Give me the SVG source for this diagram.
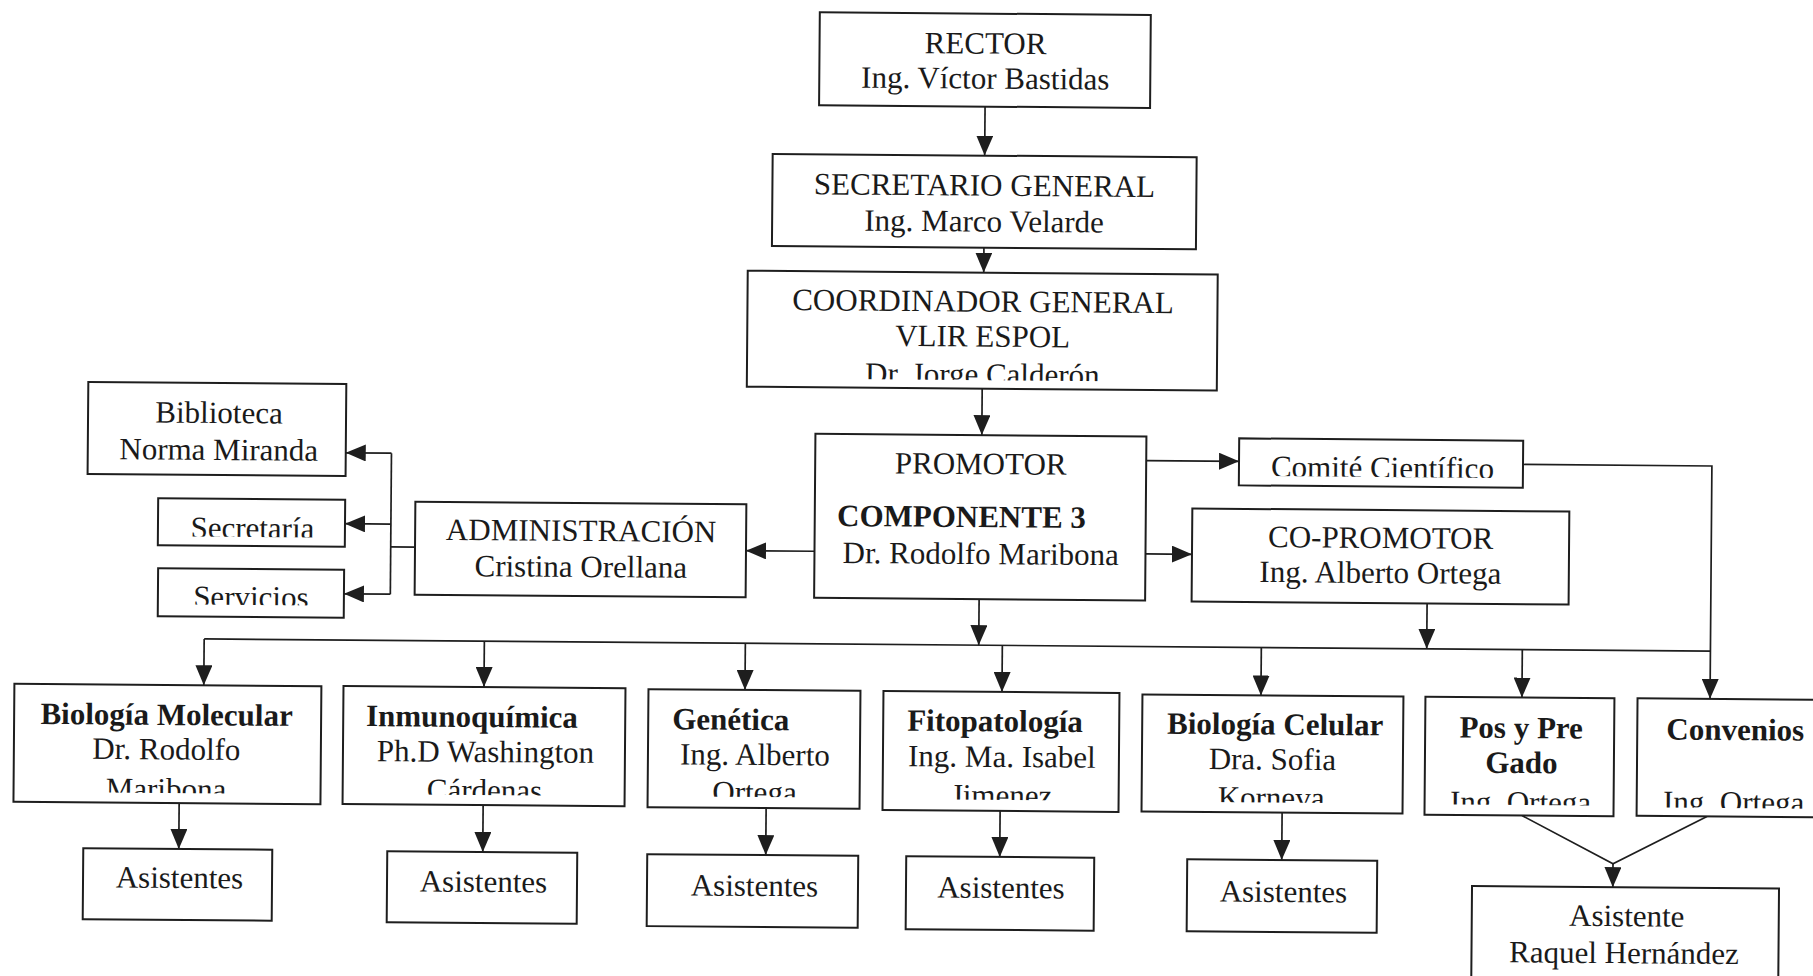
<svg xmlns="http://www.w3.org/2000/svg" width="1813" height="976" viewBox="0 0 1813 976">
<style>
.box{fill:#fff;stroke:#1e1e1e;stroke-width:2}
.t{font-family:"Liberation Serif","Times New Roman",serif;font-size:31px;fill:#1a1a1a;text-anchor:middle}
.b{font-weight:bold}
.s{text-anchor:start}
.ln{fill:none;stroke:#1e1e1e;stroke-width:1.7}
.ar{marker-end:url(#ah)}
</style>
<defs>
<marker id="ah" markerUnits="userSpaceOnUse" markerWidth="21" markerHeight="17" refX="20" refY="8.5" orient="auto">
<path d="M0,0 L20,8.5 L0,17 Z" fill="#1e1e1e"/>
</marker>
<clipPath id="c-coord"><rect x="746" y="272" width="470" height="107.5"/></clipPath>
<clipPath id="c-secr"><rect x="158.3" y="504.2" width="187" height="38"/></clipPath>
<clipPath id="c-serv"><rect x="158.8" y="574.2" width="186" height="36"/></clipPath>
<clipPath id="c-comite"><rect x="1238.8" y="435.7" width="284" height="37.5"/></clipPath>
<clipPath id="c-biomol"><rect x="16" y="690.9" width="307" height="108"/></clipPath>
<clipPath id="c-inmuno"><rect x="345.1" y="690.4" width="282" height="108"/></clipPath>
<clipPath id="c-genetica"><rect x="650.1" y="691.2" width="212" height="107"/></clipPath>
<clipPath id="c-fito"><rect x="885.1" y="691.2" width="236" height="108"/></clipPath>
<clipPath id="c-biocel"><rect x="1144.1" y="692.6" width="261" height="107"/></clipPath>
<clipPath id="c-pos"><rect x="1427.1" y="692.6" width="189" height="107.5"/></clipPath>
<clipPath id="c-conv"><rect x="1639.2" y="692.4" width="203" height="109"/></clipPath>
</defs>
<rect x="0" y="0" width="1813" height="976" fill="#fff"/>
<g transform="rotate(0.46 906 488)">
<g id="connectors">
<path class="ln ar" d="M982,106 V155"/>
<path class="ln ar" d="M982,247 V272"/>
<path class="ln ar" d="M981.4,388 V434.5"/>
<path class="ln ar" d="M815,552 H746.5"/>
<path class="ln" d="M415.5,551 H391.2"/>
<path class="ln" d="M391.2,457.3 V598.3"/>
<path class="ln ar" d="M391.2,457.3 H345.5"/>
<path class="ln ar" d="M391.2,528.2 H345.3"/>
<path class="ln ar" d="M391.2,598.3 H344.8"/>
<path class="ln ar" d="M1146,458.7 H1238.8"/>
<path class="ln ar" d="M1146,552 H1192.5"/>
<path class="ln ar" d="M1522.8,459.5 H1711.7 V692.4"/>
<path class="ln ar" d="M980,598.5 V644.6"/>
<path class="ln ar" d="M1428,599.2 V644.6"/>
<path class="ln" d="M205.4,644.6 H1711.7"/>
<path class="ln ar" d="M205.4,644.6 V690.9"/>
<path class="ln ar" d="M485.6,644.6 V690.4"/>
<path class="ln ar" d="M746.6,644.6 V691.2"/>
<path class="ln ar" d="M1003.6,644.6 V691.2"/>
<path class="ln ar" d="M1262.6,644.6 V692.6"/>
<path class="ln ar" d="M1523.6,644.6 V692.6"/>
<path class="ln ar" d="M181.7,808.9 V854.8"/>
<path class="ln ar" d="M485.7,808.4 V855.4"/>
<path class="ln ar" d="M768.7,809.2 V856.2"/>
<path class="ln ar" d="M1002.7,810.2 V856.2"/>
<path class="ln ar" d="M1284.7,809.6 V857"/>
<path class="ln" d="M1524.6,810.6 L1616,858 L1709.6,810"/>
<path class="ln ar" d="M1616,858 V881.5"/>
</g>
<g id="rector"><rect class="box" x="816" y="13" width="331" height="93"/>
<text class="t" x="982" y="53">RECTOR</text><text class="t" x="982" y="88">Ing. Víctor Bastidas</text></g>
<g id="secretario"><rect class="box" x="770" y="155" width="424" height="92"/>
<text class="t" x="982" y="195">SECRETARIO GENERAL</text><text class="t" x="982" y="231">Ing. Marco Velarde</text></g>
<g id="coordinador"><rect class="box" x="746" y="272" width="470" height="116"/>
<text class="t" x="981.5" y="311">COORDINADOR GENERAL</text><text class="t" x="981.5" y="346">VLIR ESPOL</text>
<text class="t" x="981.5" y="384" clip-path="url(#c-coord)">Dr. Jorge Calderón</text></g>
<g id="promotor"><rect class="box" x="815" y="434.5" width="331" height="164"/>
<text class="t" x="980.5" y="473.5">PROMOTOR</text><text class="t b s" x="837.3" y="526.5">COMPONENTE 3</text>
<text class="t" x="981.3" y="563.5">Dr. Rodolfo Maribona</text></g>
<g id="administracion"><rect class="box" x="415.5" y="505.6" width="331" height="93"/>
<text class="t" x="581.5" y="543.6">ADMINISTRACIÓN</text><text class="t" x="581.5" y="579.6">Cristina Orellana</text></g>
<g id="biblioteca"><rect class="box" x="87.5" y="388.5" width="258" height="92"/>
<text class="t" x="218.5" y="428.5">Biblioteca</text><text class="t" x="218.5" y="465.5">Norma Miranda</text></g>
<g id="secretaria"><rect class="box" x="158.3" y="504.2" width="187" height="47"/>
<text class="t" x="252.8" y="543.7" clip-path="url(#c-secr)">Secretaría</text></g>
<g id="servicios"><rect class="box" x="158.8" y="574.2" width="186" height="48"/>
<text class="t" x="251.8" y="612.7" clip-path="url(#c-serv)">Servicios</text></g>
<g id="comite"><rect class="box" x="1238.8" y="435.7" width="284" height="47"/>
<text class="t" x="1382.3" y="474.2" clip-path="url(#c-comite)">Comité Científico</text></g>
<g id="copromotor"><rect class="box" x="1192.5" y="506.2" width="377" height="93"/>
<text class="t" x="1381" y="544.2">CO-PROMOTOR</text><text class="t" x="1381" y="579.2">Ing. Alberto Ortega</text></g>
<g id="biomolecular"><rect class="box" x="16" y="690.9" width="307" height="118"/>
<text class="t b" x="168.5" y="730.9">Biología Molecular</text><text class="t" x="168.5" y="765.4">Dr. Rodolfo</text>
<text class="t" x="168.5" y="805.4" clip-path="url(#c-biomol)">Maribona</text></g>
<g id="asistentes1"><rect class="box" x="86.2" y="854.8" width="189" height="71"/>
<text class="t" x="182.7" y="893.8">Asistentes</text></g>
<g id="inmunoquimica"><rect class="box" x="345.1" y="690.4" width="282" height="118"/>
<text class="t b s" x="367.9" y="730.4">Inmunoquímica</text><text class="t" x="487.6" y="765.4">Ph.D Washington</text>
<text class="t" x="487" y="803.9" clip-path="url(#c-inmuno)">Cárdenas</text></g>
<g id="asistentes2"><rect class="box" x="390.2" y="855.4" width="190" height="71"/>
<text class="t" x="486.7" y="895.4">Asistentes</text></g>
<g id="genetica"><rect class="box" x="650.1" y="691.2" width="212" height="118"/>
<text class="t b s" x="674.1" y="731.2">Genética</text><text class="t" x="757.1" y="766.2">Ing. Alberto</text>
<text class="t" x="757" y="803.7" clip-path="url(#c-genetica)">Ortega</text></g>
<g id="asistentes3"><rect class="box" x="650.2" y="856.2" width="211" height="72"/>
<text class="t" x="757.7" y="897.2">Asistentes</text></g>
<g id="fitopatologia"><rect class="box" x="885.1" y="691.2" width="236" height="119"/>
<text class="t b s" x="909.1" y="730.7">Fitopatología</text><text class="t" x="1004.1" y="766.2">Ing. Ma. Isabel</text>
<text class="t" x="1004" y="805" clip-path="url(#c-fito)">Jimenez</text></g>
<g id="asistentes4"><rect class="box" x="909.2" y="856.2" width="188" height="73"/>
<text class="t" x="1004.2" y="897.2">Asistentes</text></g>
<g id="biocelular"><rect class="box" x="1144.1" y="692.6" width="261" height="117"/>
<text class="t b" x="1277.1" y="731.6">Biología Celular</text><text class="t" x="1274.6" y="766.6">Dra. Sofia</text>
<text class="t" x="1273.6" y="805.1" clip-path="url(#c-biocel)">Korneva</text></g>
<g id="asistentes5"><rect class="box" x="1190.2" y="857" width="190" height="72"/>
<text class="t" x="1286.7" y="899">Asistentes</text></g>
<g id="posgrado"><rect class="box" x="1427.1" y="692.6" width="189" height="118"/>
<text class="t b" x="1523.1" y="733.1">Pos y Pre</text><text class="t b" x="1523.6" y="768.1">Gado</text>
<text class="t" x="1523.1" y="807.6" clip-path="url(#c-pos)">Ing. Ortega</text></g>
<g id="convenios"><rect class="box" x="1639.2" y="692.4" width="203" height="117.5"/>
<text class="t b" x="1737.2" y="733.4">Convenios</text>
<text class="t" x="1736.2" y="805.9" clip-path="url(#c-conv)">Ing. Ortega</text></g>
<g id="asistente-raquel"><rect class="box" x="1475.2" y="881.5" width="307" height="130"/>
<text class="t" x="1630.2" y="920.5">Asistente</text><text class="t" x="1627.7" y="957.5">Raquel Hernández</text></g>
</g>
</svg>
